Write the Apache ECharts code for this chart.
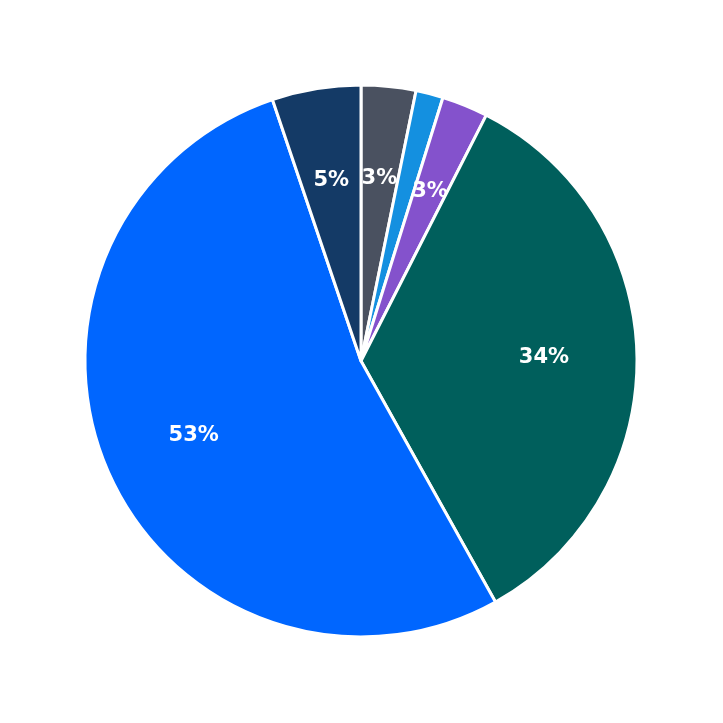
<!DOCTYPE html><html><head><meta charset="utf-8">
<script src="https://cdn.jsdelivr.net/npm/echarts@6/dist/echarts.min.js"></script>
<style>html,body{margin:0;padding:0}#c{width:723px;height:723px}</style></head><body><div id="c"></div>
<script>
const names=['A','B','C','D','E','F'];
const values=[3.2,1.6,2.7,34.4,52.9,5.2];
const colors=['#4a5160','#1490e0','#8452cc','#005f5c','#0066ff','#143a66'];
const data=names.map((n,i)=>({name:n,value:values[i],itemStyle:{color:colors[i]}}));
const chart=echarts.init(document.getElementById('c'));
chart.setOption({
 animation:false,
 series:[
  {type:'pie',center:[361,361],radius:[0,276],startAngle:90,clockwise:true,data:data,
   itemStyle:{borderColor:'#fff',borderWidth:3},label:{show:false},labelLine:{show:false},silent:true},
  {type:'pie',center:[361,361],radius:[84,276],startAngle:90,clockwise:true,silent:true,
   data:names.map((n,i)=>({name:n,value:values[i]})),
   itemStyle:{color:'rgba(0,0,0,0)'},
   label:{show:true,position:'inside',formatter:p=>Math.round(p.value)+'%',color:'#fff',fontSize:21,fontWeight:'bold',fontFamily:'DejaVu Sans'},
   labelLine:{show:false}}
 ]
});
</script></body></html>
